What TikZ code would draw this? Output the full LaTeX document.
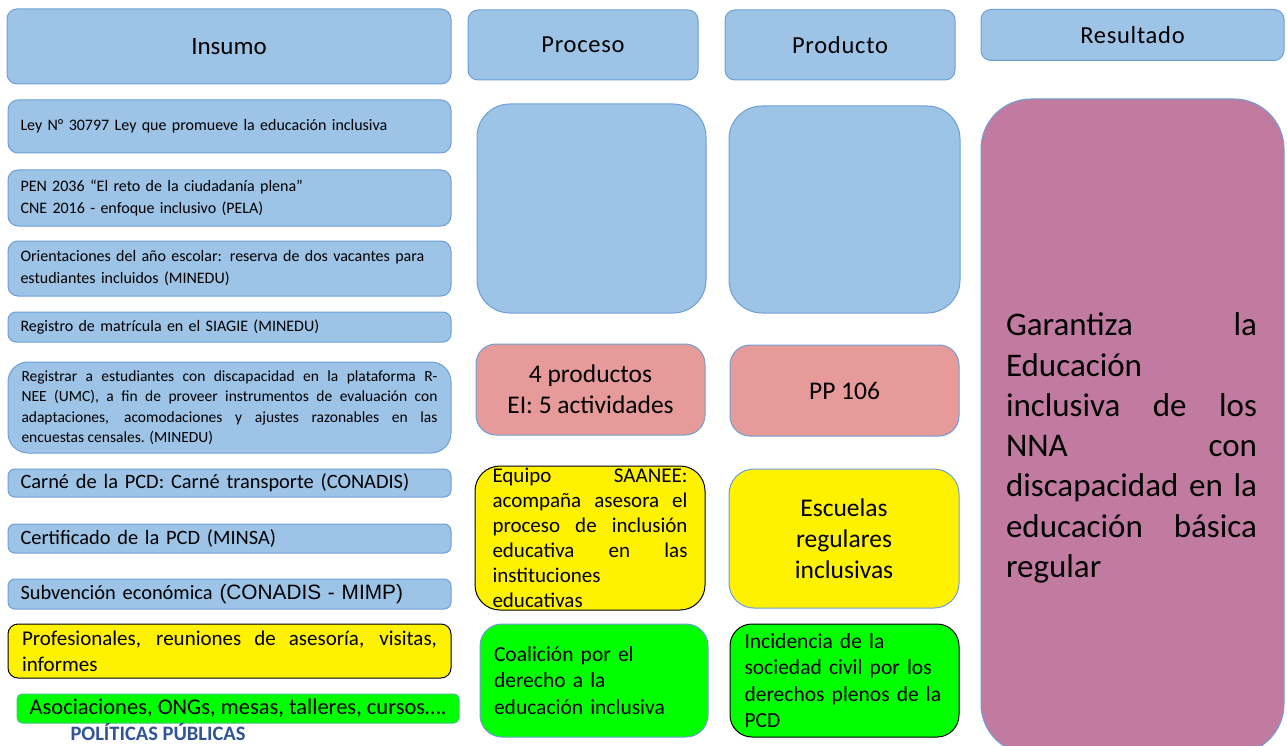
\documentclass[tikz,border=0pt]{standalone}
\usepackage{fontspec}
\setmainfont{Carlito}
\newfontfamily\arialfont{Liberation Sans}
\newfontfamily\spacedfont[LetterSpace=3]{Carlito}
\definecolor{boxblue}{HTML}{9DC3E6}
\definecolor{edgeblue}{HTML}{6D9FD5}
\definecolor{pinkfill}{HTML}{E69A9A}
\definecolor{mauve}{HTML}{C27BA0}
\definecolor{limegreen}{HTML}{00FF00}
\definecolor{navy}{HTML}{2F5597}
\newcommand\fsz[2]{\fontsize{#1}{#2}\selectfont}
\hyphenpenalty=10000
\exhyphenpenalty=10000

\begin{document}
\begin{tikzpicture}[x=1pt,y=-1pt,
  dims/.style 2 args={minimum width=#1pt, minimum height=#2pt},
  panel/.style={draw=edgeblue, fill=boxblue, line width=1pt, inner sep=0pt, rounded corners=10pt},
  pinkpanel/.style={draw=edgeblue, fill=pinkfill, line width=1pt, inner sep=0pt, rounded corners=20pt},
  yelpanel/.style={fill=yellow, line width=1pt, inner sep=0pt, rounded corners=25pt},
  greenpanel/.style={fill=limegreen, line width=1pt, inner sep=0pt, rounded corners=22pt},
  headtext/.style={font=\spacedfont\fsz{24.5}{28}},
  smalltext/.style={font=\fsz{16}{22}, text width=418pt, align=left},
  midtext/.style={font=\fsz{20.4}{26}}
]
\useasboundingbox (0,0) rectangle (1287,746);

% column headers
\node[panel, dims={444}{75}, font=\fsz{25}{28}] (hins) at (229,46.5) {Insumo};
\node[panel, dims={230}{70}, headtext] (hproc) at (583,45) {Proceso};
\node[panel, dims={230}{70}, headtext] (hprod) at (840,45) {Producto};
\node[panel, dims={303}{51}, headtext] (hres) at (1132.5,35) {Resultado};

% inputs column
\node[panel, dims={443}{53}, smalltext] (ley) at (229.5,126.5)
  {Ley N° 30797 Ley que promueve la educación inclusiva};
\node[panel, dims={443}{56}, smalltext] (pen) at (229.5,198)
  {PEN 2036 “El reto de la ciudadanía plena”\\CNE 2016 - enfoque inclusivo (PELA)};
\node[panel, dims={443}{55}, smalltext] (orient) at (229.5,268.5)
  {Orientaciones del año escolar: reserva de dos vacantes para\\estudiantes incluidos (MINEDU)};
\node[panel, dims={443}{30}, smalltext, rounded corners=8pt] (siagie) at (229.5,327)
  {Registro de matrícula en el SIAGIE (MINEDU)};
\node[panel, dims={443}{91}, rounded corners=20pt, font=\fsz{15.5}{20.5}, text width=416pt, align=justify] (rnee) at (229.5,407.5)
  {Registrar a estudiantes con discapacidad en la plataforma R-\linebreak NEE (UMC), a fin de proveer instrumentos de evaluación con\linebreak adaptaciones, acomodaciones y ajustes razonables en las\linebreak encuestas censales. (MINEDU)};
\node[panel, dims={443}{28}, rounded corners=7pt, midtext, text width=418pt, align=left] (carne) at (229.5,483)
  {Carné de la PCD: Carné transporte (CONADIS)};
\node[panel, dims={443}{29}, rounded corners=7pt, midtext, text width=418pt, align=left] (cert) at (229.5,538.5)
  {Certificado de la PCD (MINSA)};
\node[panel, dims={443}{30}, rounded corners=7pt, midtext, text width=418pt, align=left] (subv) at (229.5,594)
  {Subvención económica {\arialfont\fsz{20.8}{24}(CONADIS - MIMP)}};
\node[fill=yellow, draw=black, line width=1pt, inner sep=0pt, rounded corners=10pt, dims={443}{54}, font=\fsz{21}{26}, text width=415pt, align=justify] (prof) at (229.5,651)
  {Profesionales, reuniones de asesoría, visitas,\linebreak informes};
\node[fill=limegreen, draw=edgeblue!60!limegreen, line width=1pt, inner sep=0pt, rounded corners=5pt, dims={442}{29}, font=\fsz{22.5}{26}] (asoc) at (238,708.5)
  {Asociaciones, ONGs, mesas, talleres, cursos….};
\node[font=\fsz{20.5}{22}\bfseries, text=navy, inner sep=0pt] (polit) at (158,731.5) {POLÍTICAS PÚBLICAS};

% process and product columns
\node[panel, dims={229}{209}, rounded corners=33pt] (procbig) at (591.5,208.5) {};
\node[panel, dims={231}{207}, rounded corners=33pt] (prodbig) at (844.5,209.5) {};

\node[pinkpanel, dims={229}{91}, font=\fsz{25.5}{31}, align=center] (procpink) at (590.5,389.5)
  {4 productos\\EI: 5 actividades};
\node[pinkpanel, dims={229}{91}, font=\fsz{25.5}{31}] (prodpink) at (844.5,390.5) {PP 106};

\node[yelpanel, draw=black, dims={230}{144}, font=\fsz{21}{25}, text width=195pt, align=justify] (saanee) at (590,538)
  {Equipo SAANEE:\linebreak acompaña asesora el\linebreak proceso de inclusión\linebreak educativa en las\linebreak instituciones\\educativas};
\node[yelpanel, draw=edgeblue, dims={230}{139}, font=\fsz{25.5}{31}, align=center] (escuelas) at (844,538.5)
  {Escuelas\\regulares\\inclusivas};

\node[greenpanel, draw=edgeblue, dims={228}{113}, font=\fsz{21.5}{26.5}, text width=200pt, align=left] (coal) at (594,680.5)
  {Coalición por el\\derecho a la\\educación inclusiva};
\node[greenpanel, draw=black, dims={229}{113}, font=\fsz{21.5}{26.5}, text width=200pt, align=left] (incid) at (844.5,680.5)
  {Incidencia de la\\sociedad civil por los\\derechos plenos de la\\PCD};

% result column
\node[draw=edgeblue, fill=mauve, line width=1pt, inner sep=0pt, rounded corners=50pt, dims={303}{655}] (result) at (1132.5,426.5) {};
\node[font=\fsz{33}{40.3}, text width=251pt, align=justify, inner sep=0pt] (resulttext) at (1131.5,448)
  {Garantiza la\linebreak Educación\\inclusiva de los\linebreak NNA con\linebreak discapacidad en la\linebreak educación básica\linebreak regular};
\end{tikzpicture}
\end{document}
